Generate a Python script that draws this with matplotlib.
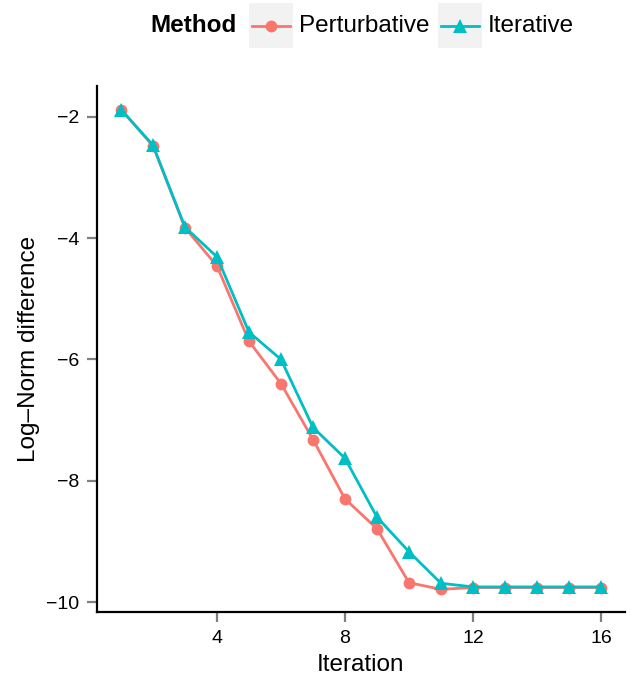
import matplotlib.pyplot as plt
from matplotlib.patches import Rectangle
from matplotlib.lines import Line2D

plt.rcParams['font.family'] = ['Liberation Sans', 'DejaVu Sans']

# Data
iterations = list(range(1, 17))
perturbative = [-1.88, -2.48, -3.83, -4.46, -5.70, -6.40, -7.32, -8.30,
                -8.79, -9.68, -9.79, -9.76, -9.76, -9.76, -9.76, -9.76]
iterative = [-1.88, -2.47, -3.82, -4.31, -5.55, -6.00, -7.12, -7.63,
             -8.60, -9.17, -9.69, -9.75, -9.75, -9.75, -9.75, -9.75]
methods = ['Perturbative', 'Iterative']
colors = ['#F8766D', '#00BFC4']
markers = ['o', '^']
msizes = [8.5, 10.5]

fig = plt.figure(figsize=(6.3, 6.76), dpi=100)
ax = fig.add_axes([0.154, 0.095, 0.838, 0.778])

for vals, c, m, ms in zip([perturbative, iterative], colors, markers, msizes):
    ax.plot(iterations, vals, color=c, lw=2, marker=m, markersize=ms,
            markeredgewidth=0)

ax.set_xlim(0.25, 16.75)
ax.set_ylim(-10.16, -1.49)
ax.set_xticks([4, 8, 12, 16])
ax.set_yticks([-2, -4, -6, -8, -10])
ax.set_yticklabels(['\u22122', '\u22124', '\u22126', '\u22128', '\u221210'])

for s in ['top', 'right']:
    ax.spines[s].set_visible(False)
for s in ['left', 'bottom']:
    ax.spines[s].set_linewidth(1.6)
    ax.spines[s].set_color('black')
ax.tick_params(length=7, width=1.6, color='#7f7f7f', labelsize=14, labelcolor='black', pad=6)

ax.set_xlabel('Iteration', fontsize=17.5, labelpad=5.5)
ax.set_ylabel('Log\u2013Norm difference', fontsize=17.5, labelpad=4)

# Legend on top
fig.text(150 / 630, 1 - 26 / 676, 'Method', fontsize=17.5, fontweight='bold',
         ha='left', va='center')
key_x = [249, 438]
for kx, name, c, m, ms in zip(key_x, methods, colors, markers, msizes):
    x0 = kx / 630
    y0 = 1 - 48 / 676
    w = 44 / 630
    h = 45 / 676
    fig.add_artist(Rectangle((x0, y0), w, h, transform=fig.transFigure,
                             facecolor='#F2F2F2', edgecolor='none'))
    yc = y0 + h / 2
    fig.add_artist(Line2D([x0 + 0.004, x0 + w - 0.004], [yc, yc], transform=fig.transFigure,
                          color=c, lw=2))
    fig.add_artist(Line2D([x0 + w / 2], [yc], transform=fig.transFigure, color=c,
                          marker=m, markersize=ms, markeredgewidth=0, lw=0))
    fig.text(x0 + w + 6 / 630, yc, name, fontsize=17.5, ha='left', va='center')

fig.savefig('out.png', dpi=100)
